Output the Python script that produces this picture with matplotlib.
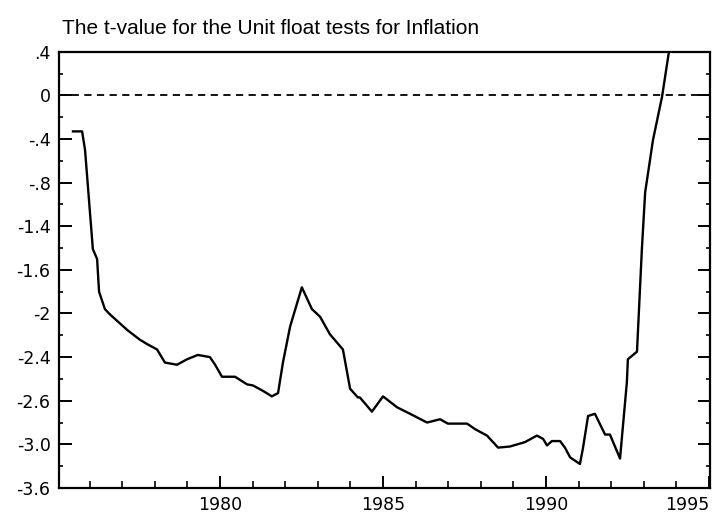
import numpy as np
import matplotlib.pyplot as plt
from matplotlib.ticker import MultipleLocator

# t-value series (decimal years)
years = [1975.49, 1975.77, 1975.86, 1976.10, 1976.23, 1976.29, 1976.47, 1976.63,
         1977.15, 1977.54, 1977.76, 1978.07, 1978.31, 1978.68, 1978.99, 1979.32,
         1979.69, 1979.85, 1980.06, 1980.46, 1980.83, 1981.01, 1981.32, 1981.59,
         1981.78, 1981.93, 1982.15, 1982.51, 1982.82, 1983.07, 1983.37, 1983.77,
         1983.99, 1984.23, 1984.29, 1984.66, 1985.00, 1985.43, 1985.83, 1986.35,
         1986.75, 1986.99, 1987.58, 1987.82, 1988.19, 1988.53, 1988.89, 1989.35,
         1989.72, 1989.91, 1990.03, 1990.18, 1990.43, 1990.58, 1990.74, 1991.04,
         1991.13, 1991.29, 1991.50, 1991.81, 1991.96, 1992.27, 1992.48, 1992.51,
         1992.79, 1992.94, 1993.04, 1993.28, 1993.56, 1993.80]
tvalue = [-0.33, -0.33, -0.50, -1.41, -1.50, -1.80, -1.96, -2.01,
          -2.15, -2.24, -2.28, -2.33, -2.45, -2.47, -2.42, -2.38,
          -2.40, -2.47, -2.58, -2.58, -2.65, -2.66, -2.71, -2.76,
          -2.73, -2.45, -2.12, -1.76, -1.96, -2.03, -2.19, -2.33,
          -2.69, -2.77, -2.77, -2.90, -2.76, -2.86, -2.92, -3.00,
          -2.97, -3.01, -3.01, -3.06, -3.12, -3.23, -3.22, -3.18,
          -3.12, -3.15, -3.21, -3.17, -3.17, -3.23, -3.32, -3.38,
          -3.24, -2.94, -2.92, -3.11, -3.11, -3.33, -2.63, -2.42,
          -2.35, -1.41, -0.89, -0.41, -0.01, 0.46]

ytick_pos = [0.4, 0.0, -0.4, -0.8, -1.2, -1.6, -2.0, -2.4, -2.8, -3.2, -3.6]
ytick_labels = ['.4', '0', '-.4', '-.8', '-1.4', '-1.6', '-2', '-2.4', '-2.6', '-3.0', '-3.6']
xtick_pos = [1980, 1985, 1990, 1995]

fig = plt.figure(figsize=(7.19, 5.18), dpi=100)
ax = fig.add_axes([0.082, 0.058, 0.9055, 0.842])

ax.plot(years, tvalue, color='black', lw=1.7)
ax.axhline(0, color='black', lw=1.3, ls=(0, (4, 3)))

ax.set_xlim(1975.06, 1995.03)
ax.set_ylim(-3.6, 0.4)

ax.set_xticks(xtick_pos)
ax.set_xticklabels([str(x) for x in xtick_pos])
ax.xaxis.set_minor_locator(MultipleLocator(1))
ax.set_yticks(ytick_pos)
ax.set_yticklabels(ytick_labels)
ax.yaxis.set_minor_locator(MultipleLocator(0.2))

ax.tick_params(axis='both', which='major', direction='in', length=9, width=1.4,
               labelsize=12.5, pad=6)
ax.tick_params(axis='both', which='minor', direction='in', length=5, width=1.2)
ax.tick_params(axis='y', which='both', right=True)
ax.tick_params(axis='y', which='minor', right=True, length=3)
ax.tick_params(axis='y', which='major', right=True, length=3)
ax.tick_params(axis='y', which='major', left=True, length=9)

for lab in ax.get_xticklabels() + ax.get_yticklabels():
    lab.set_family('DejaVu Sans')
# last year label sits against the right edge
last = ax.get_xticklabels()[-1]
last.set_horizontalalignment('right')
last.set_x(1995.5)

for s in ax.spines.values():
    s.set_linewidth(1.6)

fig.text(0.086, 0.945, 'The t-value for the Unit float tests for Inflation',
         fontsize=15, family='Liberation Sans', ha='left', va='center')

fig.savefig('out.png', dpi=100)
